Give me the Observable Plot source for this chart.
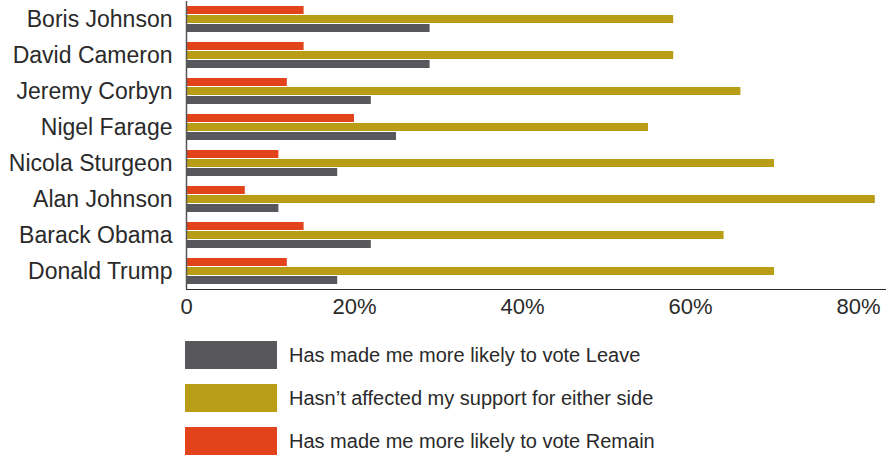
<!DOCTYPE html>
<html>
<head>
<meta charset="utf-8">
<script src="https://cdn.jsdelivr.net/npm/d3@7"></script>
<script src="https://cdn.jsdelivr.net/npm/@observablehq/plot@0.6"></script>
<style>
  body { margin: 0; background: #fff; font-family: "Liberation Sans", Arial, sans-serif; color: #2a2a2a; }
  #legend { margin-top: 11px; padding-left: 185px; }
  .item { display: flex; align-items: center; height: 28px; margin-bottom: 15px; }
  .sw { width: 92px; height: 28px; flex: none; }
  .lab { margin-left: 12px; font-size: 20px; white-space: nowrap; }
  #chart svg [aria-label^="fy-axis"] text { font-size: 23px; }
</style>
</head>
<body>
<div id="chart"></div>
<div id="legend"></div>
<script>
const names = ["Boris Johnson", "David Cameron", "Jeremy Corbyn", "Nigel Farage", "Nicola Sturgeon", "Alan Johnson", "Barack Obama", "Donald Trump"];
const leave = [29, 29, 22, 25, 18, 11, 22, 18];
const neither = [58, 58, 66, 55, 70, 82, 64, 70];
const remain = [14, 14, 12, 20, 11, 7, 14, 12];
const seriesKeys = ["remain", "neither", "leave"];
const seriesLabels = {
  leave: "Has made me more likely to vote Leave",
  neither: "Hasn\u2019t affected my support for either side",
  remain: "Has made me more likely to vote Remain"
};
const seriesColors = { remain: "#E2431A", neither: "#BA9D17", leave: "#58585C" };
const xTicks = [0, 20, 40, 60, 80];

const rows = [];
names.forEach((n, i) => {
  rows.push({ name: n, series: "remain", value: remain[i] });
  rows.push({ name: n, series: "neither", value: neither[i] });
  rows.push({ name: n, series: "leave", value: leave[i] });
});

const chart = Plot.plot({
  width: 886,
  height: 330,
  marginLeft: 186,
  marginRight: 0,
  marginTop: 0,
  marginBottom: 41,
  style: { fontSize: "22px", fontFamily: "Liberation Sans, Arial, sans-serif", color: "#2a2a2a", background: "#fff" },
  facet: { data: rows, y: "name" },
  fy: { domain: names, padding: 0, axis: "left", label: null, tickSize: 0, tickPadding: 14 },
  y: { domain: seriesKeys, paddingInner: 0.1, paddingOuter: 0.42, axis: null },
  x: { domain: [0, 700 / 8.4], ticks: xTicks, tickFormat: d => d === 0 ? "0" : d + "%", tickSize: 0, tickPadding: 9, label: null, line: true },
  color: { domain: seriesKeys, range: seriesKeys.map(k => seriesColors[k]) },
  marks: [
    Plot.barX(rows, { x: "value", y: "series", fill: "series" }),
    Plot.ruleX([0], { stroke: "#555", strokeWidth: 1.5 })
  ]
});
document.getElementById("chart").appendChild(chart);

const legend = document.getElementById("legend");
["leave", "neither", "remain"].forEach(k => {
  const item = document.createElement("div");
  item.className = "item";
  const sw = document.createElement("div");
  sw.className = "sw";
  sw.style.background = seriesColors[k];
  const lab = document.createElement("span");
  lab.className = "lab";
  lab.textContent = seriesLabels[k];
  item.appendChild(sw);
  item.appendChild(lab);
  legend.appendChild(item);
});
</script>
</body>
</html>
